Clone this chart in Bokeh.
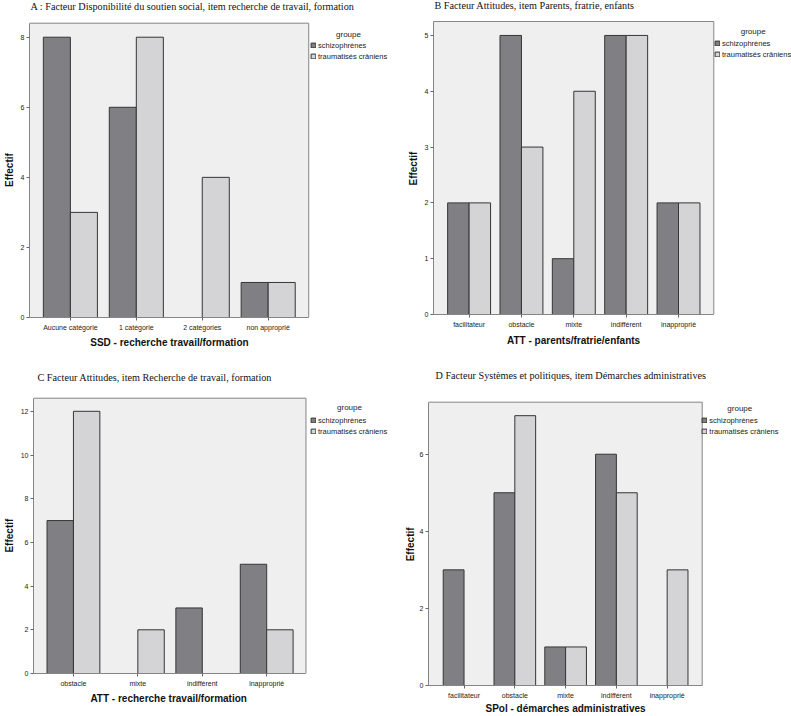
from bokeh.plotting import figure
from bokeh.models import (ColumnDataSource, Range1d, FixedTicker,
                          Label, Legend, LegendItem)
from bokeh.transform import dodge
from bokeh.layouts import row, column
from bokeh.embed import file_html
from bokeh.resources import INLINE

# ---------------- data ----------------
groups = ["schizophrènes", "traumatisés crâniens"]
legend_title = "groupe"

titles = [
    "A : Facteur Disponibilité du soutien social, item recherche de travail, formation",
    "B Facteur Attitudes, item Parents, fratrie, enfants",
    "C Facteur Attitudes, item Recherche de travail, formation",
    "D Facteur Systèmes et politiques, item Démarches administratives",
]
xlabels = [
    "SSD - recherche travail/formation",
    "ATT - parents/fratrie/enfants",
    "ATT - recherche travail/formation",
    "SPol - démarches administratives",
]
ylabel = "Effectif"

cats_a = ["Aucune catégorie", "1 catégorie", "2 catégories", "non approprié"]
schizo_a = [8, 6, 0, 1]
trauma_a = [3, 8, 4, 1]
yticks_a = [0, 2, 4, 6, 8]

cats_b = ["facilitateur", "obstacle", "mixte", "indifférent", "inapproprié"]
schizo_b = [2, 5, 1, 5, 2]
trauma_b = [2, 3, 4, 5, 2]
yticks_b = [0, 1, 2, 3, 4, 5]

cats_c = ["obstacle", "mixte", "indifférent", "inapproprié"]
schizo_c = [7, 0, 3, 5]
trauma_c = [12, 2, 0, 2]
yticks_c = [0, 2, 4, 6, 8, 10, 12]

cats_d = ["facilitateur", "obstacle", "mixte", "indifférent", "inapproprié"]
schizo_d = [3, 5, 1, 6, 0]
trauma_d = [0, 7, 1, 5, 3]
yticks_d = [0, 2, 4, 6]

# ---------------- styling ----------------
DARK = "#808084"
LIGHT = "#d4d4d6"
BG = "#efefef"
EDGE = "#353535"
FRAME = "#858585"
SANS = "Liberation Sans"
SERIF = "Liberation Serif"
NBSP = "\u00a0"
LABEL_PX = 10
NBSP_W = 0.278 * LABEL_PX

# geometry per panel, page pixels
geo = [
    dict(origin=(0, 0), size=(395, 350), box=(27.7, 22.7, 308, 317), pads=(0.62, 0.615),
         title=(21.7, 5.7), xlab_cx=168, groupe=(347, 34), leg=(309, 60.5),
         x_stand=3, y_stand=3),
    dict(origin=(395, 0), size=(396, 350), box=(432.7, 21, 713.3, 314.3), pads=(0.68, 0.674),
         title=(424, 4.8), xlab_cx=573, groupe=(752.7, 30.7), leg=(714, 58.5),
         x_stand=4, y_stand=3),
    dict(origin=(0, 350), size=(395, 366), box=(27.3, 397.7, 304, 673), pads=(0.62, 0.61),
         title=(31, 376.7), xlab_cx=165.7, groupe=(343, 407), leg=(304, 435.8),
         x_stand=3, y_stand=3),
    dict(origin=(395, 350), size=(396, 366), box=(428.3, 402.3, 701.7, 688.7), pads=(0.70, 0.69),
         title=(435, 379.3), xlab_cx=565, groupe=(739.3, 412.3), leg=(701.3, 439.8),
         x_stand=1, y_stand=1),
]

datasets = [
    (cats_a, schizo_a, trauma_a, yticks_a, 8.4),
    (cats_b, schizo_b, trauma_b, yticks_b, 5.25),
    (cats_c, schizo_c, trauma_c, yticks_c, 12.6),
    (cats_d, schizo_d, trauma_d, yticks_d, 7.35),
]


def make_panel(i):
    cats, s_vals, t_vals, yt, ymax = datasets[i]
    g = geo[i]
    ox, oy = g["origin"]
    w, h = g["size"]
    L, T, R, B = g["box"]
    fl = round(L - ox)
    fb = round(B - oy)
    tl = T - oy
    rl = R - ox
    n = len(cats)
    pl, pr = g["pads"]
    px_per_unit = (rl - fl) / (n - 1 + pl + pr)
    x_end = -pl + (w - fl) / px_per_unit
    y_end = ymax * fb / (fb - tl)

    p = figure(width=w, height=h, x_range=Range1d(-pl, x_end),
               y_range=Range1d(0, y_end),
               output_backend="svg", toolbar_location=None, title=None,
               min_border_left=fl, min_border_bottom=h - fb,
               min_border_top=0, min_border_right=0)
    if "frame_align" in p.properties():
        p.frame_align = False
    p.background_fill_color = "white"
    p.border_fill_color = "white"
    p.outline_line_color = None
    p.xgrid.visible = False
    p.ygrid.visible = False

    # grey plotting area with its border
    p.quad(left=[-pl], right=[n - 1 + pr], bottom=[0], top=[ymax],
           fill_color=BG, line_color=FRAME, line_width=1)

    idx = list(range(n))
    src_s = ColumnDataSource(dict(x=[k for k, v in zip(idx, s_vals) if v > 0],
                                  v=[v for v in s_vals if v > 0]))
    src_t = ColumnDataSource(dict(x=[k for k, v in zip(idx, t_vals) if v > 0],
                                  v=[v for v in t_vals if v > 0]))
    rs = p.vbar(x=dodge("x", -0.205), top="v", width=0.41, source=src_s,
                fill_color=DARK, line_color=EDGE, line_width=1)
    rt = p.vbar(x=dodge("x", 0.205), top="v", width=0.41, source=src_t,
                fill_color=LIGHT, line_color=EDGE, line_width=1)

    for ax in (p.xaxis[0], p.yaxis[0]):
        ax.axis_line_color = FRAME
        ax.major_tick_line_color = "#666666"
        ax.major_tick_out = 3
        ax.major_tick_in = 0
        ax.minor_tick_line_color = None
        ax.major_label_text_font = SANS
        ax.major_label_text_font_size = "7px"
        ax.major_label_text_color = "#222222"
        ax.axis_label_text_font = SANS
        ax.axis_label_text_font_size = f"{LABEL_PX}px"
        ax.axis_label_text_font_style = "bold"
        ax.axis_label_text_color = "#111111"
    p.xaxis.bounds = (-pl, n - 1 + pr)
    p.yaxis.bounds = (0, ymax)
    p.xaxis.ticker = FixedTicker(ticks=idx)
    p.xaxis.major_label_overrides = {k: c for k, c in zip(idx, cats)}
    p.xaxis.major_label_standoff = 3
    p.yaxis.ticker = FixedTicker(ticks=yt)
    p.yaxis.major_label_standoff = 2

    # axis labels, centred on the grey box rather than on the whole frame
    shift_x = (fl + w) / 2 - (g["xlab_cx"] - ox)
    nx = max(0, round(2 * shift_x / NBSP_W))
    p.xaxis.axis_label = xlabels[i] + NBSP * nx
    p.xaxis.axis_label_standoff = g["x_stand"]
    ny = max(0, round(tl / NBSP_W))
    p.yaxis.axis_label = ylabel + NBSP * ny
    p.yaxis.axis_label_standoff = g["y_stand"]

    # title
    tx = max(g["title"][0] - ox - fl, 1)
    ty = fb - (g["title"][1] - oy)
    p.add_layout(Label(x=tx, y=ty, x_units="screen", y_units="screen",
                       text=titles[i], text_font=SERIF, text_font_size="10.2px",
                       text_color="#111111", text_align="left",
                       text_baseline="middle"))
    # legend title
    gx = g["groupe"][0] - ox - fl
    gy = fb - (g["groupe"][1] - oy)
    p.add_layout(Label(x=gx, y=gy, x_units="screen", y_units="screen",
                       text=legend_title, text_font=SANS, text_font_size="8px",
                       text_color="#222222", text_align="center",
                       text_baseline="middle"))
    # legend
    lx = g["leg"][0] - ox - fl
    ly = fb - (g["leg"][1] - oy)
    legend = Legend(items=[LegendItem(label=groups[0], renderers=[rs]),
                           LegendItem(label=groups[1], renderers=[rt])],
                    location=(lx, ly), orientation="vertical",
                    padding=0, margin=0, spacing=2,
                    glyph_width=6, glyph_height=6, label_height=7,
                    label_standoff=2, label_text_font=SANS,
                    label_text_font_size="7.5px", label_text_color="#222222",
                    label_text_baseline="middle",
                    border_line_color=None, background_fill_alpha=0)
    p.add_layout(legend)
    return p


figs = [make_panel(i) for i in range(4)]
layout = column(row(figs[0], figs[1]), row(figs[2], figs[3]))

open("out.html", "w").write(file_html(layout, INLINE))
